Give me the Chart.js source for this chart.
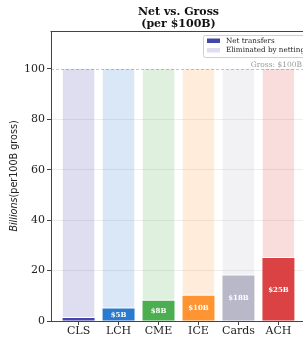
<!DOCTYPE html>
<html><head><meta charset="utf-8">
<script src="https://cdn.jsdelivr.net/npm/chart.js@4.4.1/dist/chart.umd.min.js"></script>
<style>
html,body{margin:0;padding:0;background:#fff;overflow:hidden}
#wrap{width:303px;height:337px;overflow:hidden;position:relative}
canvas{position:absolute;left:0;top:0}
</style></head><body>
<div id="wrap"><canvas id="c" width="312" height="337"></canvas></div>
<script>
const categories = ['CLS', 'LCH', 'CME', 'ICE', 'Cards', 'ACH'];
const netValues = [1.2, 5, 8, 10, 18, 25];
const grossValue = 100;
const netLabels = ['', '$5B', '$8B', '$10B', '$18B', '$25B'];
const yTicks = [0, 20, 40, 60, 80, 100];
const netColors = ['#4646aa', '#2a7bd0', '#4cae50', '#ff9433', '#b9b8c9', '#db4244'];

function lighten(hex, a) {
  const n = parseInt(hex.slice(1), 16);
  return `rgba(${n >> 16},${(n >> 8) & 255},${n & 255},${a})`;
}
const eliminatedColors = netColors.map(c => lighten(c, 0.18));

const serif = 'DejaVu Serif';
const ink = '#222';

const decor = {
  id: 'decor',
  beforeDraw(chart) {
    const c = chart.ctx;
    c.save();
    c.fillStyle = '#fff';
    c.fillRect(0, 0, chart.width, chart.height);
    c.restore();
  },
  afterDraw(chart) {
    const c = chart.ctx;
    const area = chart.chartArea;
    const y = chart.scales.y;
    c.save();

    // gross reference line
    const y100 = Math.round(y.getPixelForValue(grossValue)) + 0.5;
    c.strokeStyle = 'rgba(0,0,0,0.22)';
    c.lineWidth = 1;
    c.setLineDash([3, 2]);
    c.beginPath();
    c.moveTo(area.left, y100);
    c.lineTo(area.right, y100);
    c.stroke();
    c.setLineDash([]);

    c.font = `7.5px "${serif}"`;
    c.fillStyle = '#9a9a9a';
    c.textAlign = 'right';
    c.textBaseline = 'alphabetic';
    c.fillText('Gross: $' + grossValue + 'B', 302, y100 - 3);

    // value labels inside net bars
    const meta = chart.getDatasetMeta(0);
    c.font = `bold 7px "${serif}"`;
    c.fillStyle = '#fff';
    c.textAlign = 'center';
    c.textBaseline = 'middle';
    meta.data.forEach((bar, i) => {
      if (!netLabels[i]) return;
      c.fillText(netLabels[i], bar.x, (bar.y + bar.base) / 2 + 0.5);
    });

    // top spine
    c.strokeStyle = '#444';
    c.lineWidth = 1;
    c.beginPath();
    c.moveTo(area.left - 0.5, Math.round(area.top) + 0.5);
    c.lineTo(area.right, Math.round(area.top) + 0.5);
    c.stroke();

    // title
    const cx = (area.left + area.right) / 2;
    c.fillStyle = '#111';
    c.textAlign = 'center';
    c.textBaseline = 'alphabetic';
    c.font = `bold 11px "${serif}"`;
    c.fillText('Net vs. Gross', cx, 15);
    c.fillText('(per $100B)', cx, 27);

    // y axis title
    c.save();
    c.translate(14, (area.top + area.bottom) / 2);
    c.rotate(-Math.PI / 2);
    c.textBaseline = 'middle';
    c.textAlign = 'left';
    c.fillStyle = ink;
    const italic = 'italic 9.6px "DejaVu Sans"';
    const plain = '9.6px "DejaVu Sans"';
    c.font = italic;
    const w1 = c.measureText('Billions').width;
    c.font = plain;
    const w2 = c.measureText('(per100B gross)').width;
    let x0 = -(w1 + w2) / 2;
    c.font = italic;
    c.fillText('Billions', x0, 0);
    c.font = plain;
    c.fillText('(per100B gross)', x0 + w1, 0);
    c.restore();

    // legend
    const lx = 203, ly = 35, lw = 104, lh = 22;
    c.fillStyle = 'rgba(255,255,255,0.85)';
    c.strokeStyle = '#cfcfcf';
    c.lineWidth = 1;
    c.beginPath();
    c.roundRect(lx + 0.5, ly + 0.5, lw, lh, 2);
    c.fill();
    c.stroke();
    const rows = chart.data.datasets.map(d => ({ label: d.label, color: d.backgroundColor[0] }));
    c.font = `7.2px "${serif}"`;
    c.textAlign = 'left';
    c.textBaseline = 'middle';
    rows.forEach((r, i) => {
      const ry = ly + 5.5 + i * 9.5;
      c.fillStyle = r.color;
      c.fillRect(207, ry - 2, 13, 4.5);
      c.fillStyle = ink;
      c.fillText(r.label, 226, ry + 0.5);
    });

    c.restore();
  }
};

const tickFont = { family: serif, size: 11 };

new Chart(document.getElementById('c'), {
  type: 'bar',
  data: {
    datasets: [
      {
        label: 'Net transfers',
        data: categories.map((c, i) => ({ x: i, y: netValues[i] })),
        backgroundColor: netColors,
        borderWidth: 0
      },
      {
        label: 'Eliminated by netting',
        data: categories.map((c, i) => ({ x: i, y: grossValue - netValues[i] })),
        backgroundColor: eliminatedColors,
        borderColor: 'rgba(255,255,255,0.9)',
        borderWidth: { bottom: 1, top: 0, left: 0, right: 0 },
        borderSkipped: false
      }
    ]
  },
  options: {
    responsive: false,
    animation: false,
    devicePixelRatio: 1,
    layout: { padding: { left: 0, top: 31, right: 6, bottom: 0 } },
    plugins: { legend: { display: false }, tooltip: { enabled: false } },
    datasets: { bar: { barPercentage: 0.8, categoryPercentage: 1 } },
    scales: {
      x: {
        type: 'linear',
        stacked: true,
        offset: false,
        min: -0.69,
        max: 5.69,
        afterBuildTicks: s => { s.ticks = categories.map((c, i) => ({ value: i })); },
        afterFit: s => { s.height = 16; },
        ticks: { callback: v => categories[v], font: tickFont, color: ink, padding: 0, autoSkip: false, maxRotation: 0 },
        grid: { drawOnChartArea: false, offset: false, tickLength: 4, tickColor: '#444' },
        border: { color: '#444', width: 1 }
      },
      y: {
        stacked: true,
        min: 0,
        max: 115,
        z: 1,
        afterBuildTicks: s => { s.ticks = yTicks.map(v => ({ value: v })); },
        afterFit: s => { s.width = 51; },
        ticks: { font: tickFont, color: ink, padding: 2 },
        grid: {
          color: ctx => (ctx.tick && (ctx.tick.value === 0 || ctx.tick.value === grossValue)) ? 'rgba(0,0,0,0)' : 'rgba(0,0,0,0.07)',
          tickColor: '#444',
          tickLength: 4
        },
        border: { color: '#444', width: 1 }
      }
    }
  },
  plugins: [decor]
});
</script>
</body></html>
